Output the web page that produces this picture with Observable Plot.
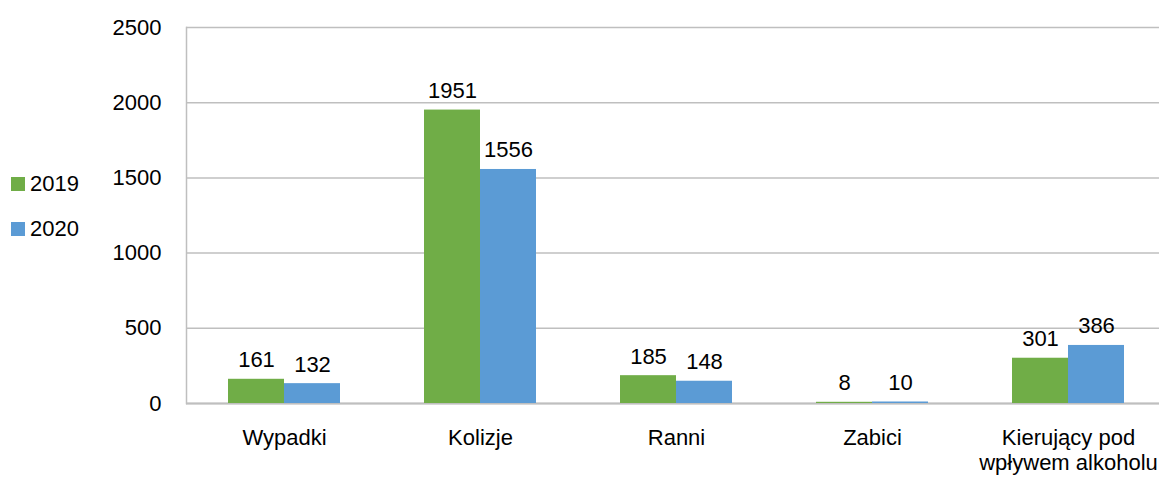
<!DOCTYPE html>
<html>
<head>
<meta charset="utf-8">
<script src="https://cdn.jsdelivr.net/npm/d3@7"></script>
<script src="https://cdn.jsdelivr.net/npm/@observablehq/plot@0.6"></script>
<style>
  html, body { margin: 0; padding: 0; background: #fff; overflow: hidden; }
  #wrap { position: relative; width: 1159px; height: 479px; }
  .legend { position: absolute; left: 11px; top: 161px; font-family: "Liberation Sans", Arial, sans-serif; font-size: 22px; color: #000; }
  .legend .item { display: flex; align-items: center; height: 45px; line-height: 1; }
  .legend .sw { width: 14px; height: 14px; margin-right: 5px; }
</style>
</head>
<body>
<div id="wrap"></div>
<script>
const categories = ["Wypadki", "Kolizje", "Ranni", "Zabici", "Kierujący pod\nwpływem alkoholu"];
const years = ["2019", "2020"];
const values2019 = [161, 1951, 185, 8, 301];
const values2020 = [132, 1556, 148, 10, 386];
const yTicks = [0, 500, 1000, 1500, 2000, 2500];
const colors = ["#70ad47", "#5b9bd5"];

const data = [];
categories.forEach((c, i) => {
  data.push({category: c, year: years[0], value: values2019[i]});
  data.push({category: c, year: years[1], value: values2020[i]});
});

const font = '"Liberation Sans", Arial, sans-serif';
const grey = "#bfbfbf";

const chart = Plot.plot({
  width: 1159,
  height: 479,
  marginLeft: 185,
  marginRight: -8,
  marginTop: 27,
  marginBottom: 76,
  style: {fontFamily: font, fontSize: "22px", color: "#000", background: "#fff"},
  fx: {domain: categories, paddingInner: 0, paddingOuter: 0, axis: null},
  x: {domain: years, paddingInner: 0, paddingOuter: 0.738, axis: null},
  y: {domain: [0, 2500], axis: null},
  color: {domain: years, range: colors},
  marks: [
    Plot.gridY(yTicks, {stroke: grey, strokeOpacity: 1, strokeWidth: 1.5}),
    Plot.frame({anchor: "left", facetAnchor: "left", stroke: grey, strokeWidth: 1.5}),
    Plot.ruleY([0], {stroke: grey, strokeWidth: 2}),
    Plot.axisY(yTicks, {anchor: "left", tickSize: 0, tickPadding: 25, label: null, fill: "#000", tickFormat: d => String(d)}),
    Plot.axisFx({anchor: "bottom", tickSize: 0, tickPadding: 24, label: null, fill: "#000", lineHeight: 1.14}),
    Plot.barY(data, {fx: "category", x: "year", y: "value", fill: "year"}),
    Plot.text(data, {fx: "category", x: "year", y: "value", text: d => String(d.value), lineAnchor: "bottom", dy: -12, fill: "#000"})
  ]
});

const wrap = document.getElementById("wrap");
wrap.appendChild(chart);

const legend = document.createElement("div");
legend.className = "legend";
years.forEach((y, i) => {
  const item = document.createElement("div");
  item.className = "item";
  const sw = document.createElement("div");
  sw.className = "sw";
  sw.style.background = colors[i];
  const label = document.createElement("span");
  label.textContent = y;
  item.appendChild(sw);
  item.appendChild(label);
  legend.appendChild(item);
});
wrap.appendChild(legend);
</script>
</body>
</html>
